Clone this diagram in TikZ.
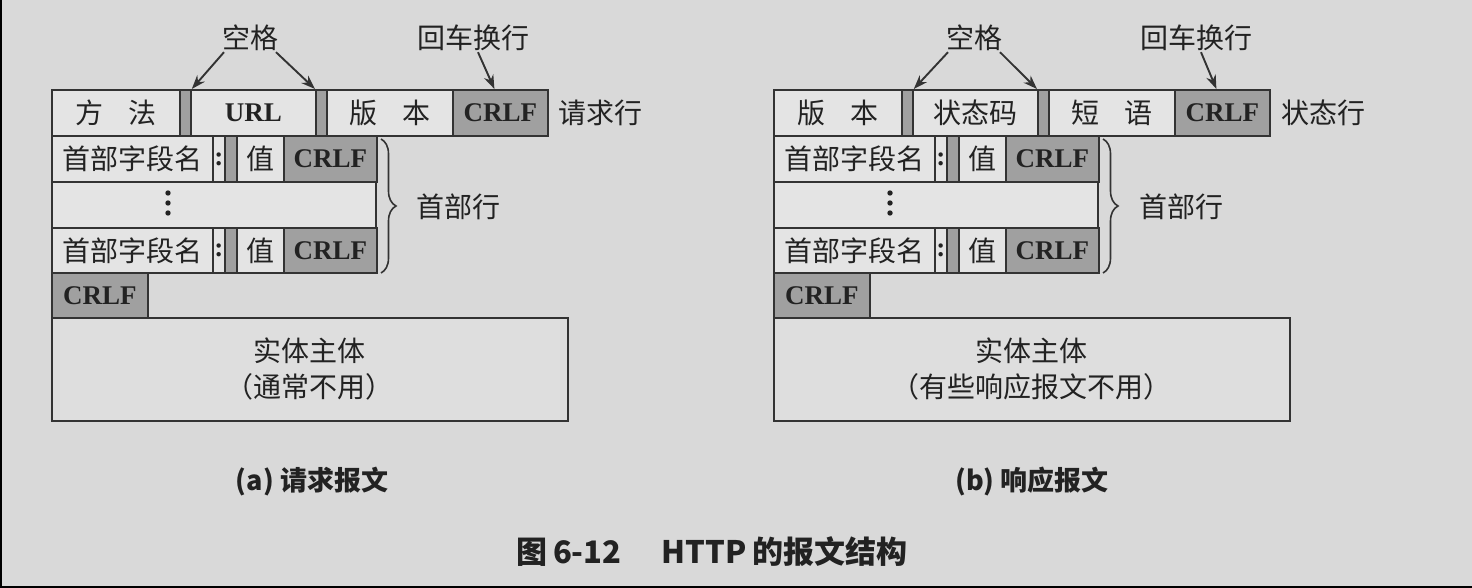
\documentclass[tikz,border=0pt]{standalone}
\usepackage{fontspec}
\setmainfont{Liberation Serif}
\newfontfamily\cjk{Noto Sans CJK SC}
\usetikzlibrary{arrows.meta,decorations.pathreplacing}
\definecolor{bgc}{HTML}{D9D9D9}
\definecolor{cellc}{HTML}{E4E4E4}
\definecolor{bodyc}{HTML}{DEDEDE}
\definecolor{grayc}{HTML}{A0A0A0}
\definecolor{linec}{HTML}{333333}
\definecolor{txtc}{HTML}{222222}
\tikzset{
 cellbox/.style={draw=linec, line width=1.8pt, fill=cellc, rectangle, inner sep=0pt, anchor=north west, minimum height=46pt, text=txtc},
 graybox/.style={cellbox, fill=grayc},
 zh/.style={font=\cjk\fontsize{28}{30}\selectfont},
 en/.style={font=\bfseries\fontsize{27}{30}\selectfont},
 lbl/.style={zh, text=txtc, inner sep=1pt},
 arr/.style={draw=linec, line width=1.9pt, -{Stealth[length=14pt,width=10pt]}},
 brc/.style={draw=linec, line width=1.6pt, decorate, decoration={brace, amplitude=15pt}},
 capt/.style={font=\cjk\bfseries\fontsize{27}{30}\selectfont, text=txtc},
 dotc/.style={fill=txtc}
}
\begin{document}
\begin{tikzpicture}[x=1pt,y=-1pt]
\fill[bgc] (0,0) rectangle (1472,588);
\fill[black] (0,0) rectangle (1.5,588);
\fill[black] (0,585.5) rectangle (1472,588);
\useasboundingbox (0,0) rectangle (1472,588);

% ---------- (a) request ----------
\node[cellbox, minimum width=128pt, zh] (a-m) at (51,89) {方\hspace{0.9em}法};
\node[graybox, minimum width=11pt] (a-s1) at (179,89) {};
\node[cellbox, minimum width=125pt, en] (a-u) at (190,89) {URL};
\node[graybox, minimum width=11pt] (a-s2) at (315,89) {};
\node[cellbox, minimum width=126pt, zh] (a-v) at (326,89) {版\hspace{0.9em}本};
\node[graybox, minimum width=95pt, en] (a-c) at (452,89) {CRLF};

\node[cellbox, minimum width=161pt, zh] (a-h1n) at (51,135) {首部字段名};
\node[cellbox, minimum width=12pt, en] (a-h1c) at (212,135) {:};
\node[graybox, minimum width=12pt] (a-h1s) at (224,135) {};
\node[cellbox, minimum width=47pt, zh] (a-h1v) at (236,135) {值};
\node[graybox, minimum width=93pt, en] (a-h1r) at (283,135) {CRLF};

\node[cellbox, minimum width=324pt] (a-dots) at (51,181) {};
\fill[dotc] (168,193) circle (2.7pt) (168,203) circle (2.7pt) (168,213) circle (2.7pt);

\node[cellbox, minimum width=161pt, minimum height=45pt, zh] (a-h2n) at (51,227) {首部字段名};
\node[cellbox, minimum width=12pt, minimum height=45pt, en] (a-h2c) at (212,227) {:};
\node[graybox, minimum width=12pt, minimum height=45pt] (a-h2s) at (224,227) {};
\node[cellbox, minimum width=47pt, minimum height=45pt, zh] (a-h2v) at (236,227) {值};
\node[graybox, minimum width=93pt, minimum height=45pt, en] (a-h2r) at (283,227) {CRLF};

\node[graybox, minimum width=96pt, minimum height=45pt, en] (a-end) at (51,272) {CRLF};
\node[cellbox, fill=bodyc, minimum width=516pt, minimum height=103pt, align=center, font=\cjk\fontsize{28}{36}\selectfont] (a-body) at (51,317) {实体主体\\（通常不用）};

\node[lbl] (a-sp) at (250,38) {空格};
\node[lbl] (a-cr) at (473,38) {回车换行};
\node[lbl] (a-rl) at (600,113) {请求行};
\node[lbl] (a-hl) at (458,207) {首部行};
\draw[arr] ([xshift=-26pt]a-sp.south) -- (a-s1.north east);
\draw[arr] ([xshift=26pt]a-sp.south) -- (a-s2.north west);
\draw[arr] ([xshift=5pt]a-cr.south) -- ([xshift=-6pt]a-c.north);
\coordinate (a-bt) at (381,139);
\coordinate (a-bb) at (381,273);
\draw[brc] (a-bt) -- (a-bb);
\node[capt] (a-cap) at (312,482) {(a) 请求报文};

% ---------- (b) response ----------
\node[cellbox, minimum width=128pt, zh] (b-v) at (773,89) {版\hspace{0.9em}本};
\node[graybox, minimum width=11pt] (b-s1) at (901,89) {};
\node[cellbox, minimum width=125pt, zh] (b-st) at (912,89) {状态码};
\node[graybox, minimum width=11pt] (b-s2) at (1037,89) {};
\node[cellbox, minimum width=126pt, zh] (b-p) at (1048,89) {短\hspace{0.9em}语};
\node[graybox, minimum width=95pt, en] (b-c) at (1174,89) {CRLF};

\node[cellbox, minimum width=161pt, zh] (b-h1n) at (773,135) {首部字段名};
\node[cellbox, minimum width=12pt, en] (b-h1c) at (934,135) {:};
\node[graybox, minimum width=12pt] (b-h1s) at (946,135) {};
\node[cellbox, minimum width=47pt, zh] (b-h1v) at (958,135) {值};
\node[graybox, minimum width=93pt, en] (b-h1r) at (1005,135) {CRLF};

\node[cellbox, minimum width=324pt] (b-dots) at (773,181) {};
\fill[dotc] (890,193) circle (2.7pt) (890,203) circle (2.7pt) (890,213) circle (2.7pt);

\node[cellbox, minimum width=161pt, minimum height=45pt, zh] (b-h2n) at (773,227) {首部字段名};
\node[cellbox, minimum width=12pt, minimum height=45pt, en] (b-h2c) at (934,227) {:};
\node[graybox, minimum width=12pt, minimum height=45pt] (b-h2s) at (946,227) {};
\node[cellbox, minimum width=47pt, minimum height=45pt, zh] (b-h2v) at (958,227) {值};
\node[graybox, minimum width=93pt, minimum height=45pt, en] (b-h2r) at (1005,227) {CRLF};

\node[graybox, minimum width=96pt, minimum height=45pt, en] (b-end) at (773,272) {CRLF};
\node[cellbox, fill=bodyc, minimum width=516pt, minimum height=103pt, align=center, font=\cjk\fontsize{28}{36}\selectfont] (b-body) at (773,317) {实体主体\\（有些响应报文不用）};

\node[lbl] (b-sp) at (974,38) {空格};
\node[lbl] (b-cr) at (1196,38) {回车换行};
\node[lbl] (b-rl) at (1323,113) {状态行};
\node[lbl] (b-hl) at (1181,207) {首部行};
\draw[arr] ([xshift=-26pt]b-sp.south) -- (b-s1.north east);
\draw[arr] ([xshift=26pt]b-sp.south) -- (b-s2.north west);
\draw[arr] ([xshift=5pt]b-cr.south) -- ([xshift=-6pt]b-c.north);
\coordinate (b-bt) at (1103,139);
\coordinate (b-bb) at (1103,273);
\draw[brc] (b-bt) -- (b-bb);
\node[capt] (b-cap) at (1032,482) {(b) 响应报文};

\node[capt, font=\cjk\bfseries\fontsize{31}{33}\selectfont] (fig) at (712,552) {图\,6-12\hspace{1.3em}HTTP\,的报文结构};
\end{tikzpicture}
\end{document}
